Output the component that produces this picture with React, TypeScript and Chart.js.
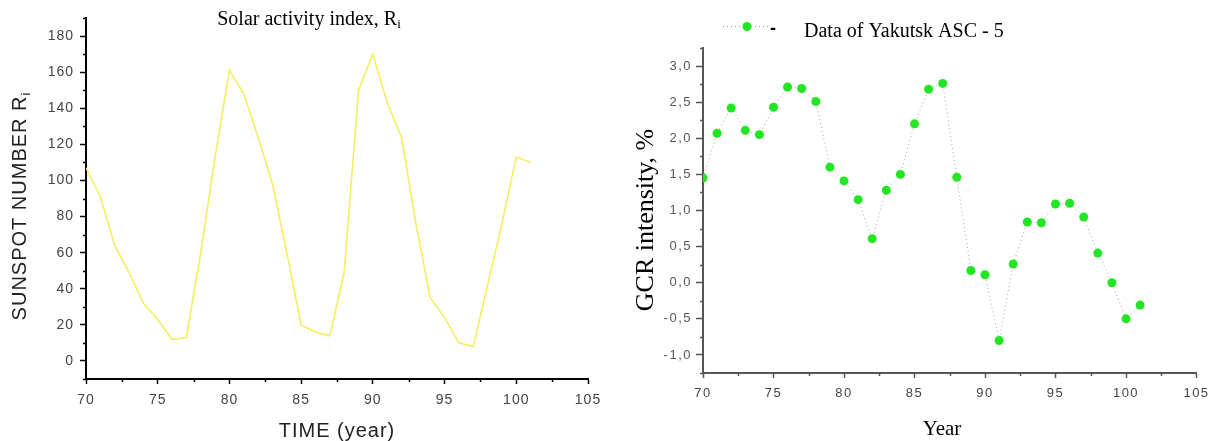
import React, { useEffect, useRef } from "react";
import { Chart, registerables } from "chart.js";

Chart.register(...registerables);

// ---------- data ----------
const years = [70, 71, 72, 73, 74, 75, 76, 77, 78, 79, 80, 81, 82, 83, 84, 85, 86, 87, 88, 89, 90, 91, 92, 93, 94, 95, 96, 97, 98, 99, 100, 101];
const sunspotNumbers = [107, 91, 64, 49, 32, 23, 12, 13, 60, 113, 161, 148, 124, 98, 60, 20, 16, 14, 49, 150, 170, 143, 124, 76, 35, 24, 10, 8, 42, 76, 113, 110];
const gcrIntensity = [1.45, 2.07, 2.42, 2.11, 2.05, 2.43, 2.71, 2.69, 2.51, 1.6, 1.41, 1.15, 0.61, 1.28, 1.5, 2.2, 2.68, 2.76, 1.46, 0.17, 0.11, -0.8, 0.26, 0.84, 0.83, 1.09, 1.1, 0.91, 0.41, 0.0, -0.5, -0.31];

const leftXTicks = [70, 75, 80, 85, 90, 95, 100, 105];
const leftYTicks = [0, 20, 40, 60, 80, 100, 120, 140, 160, 180];
const rightXTicks = [70, 75, 80, 85, 90, 95, 100, 105];
const rightYTicks = [-1.0, -0.5, 0.0, 0.5, 1.0, 1.5, 2.0, 2.5, 3.0];

const leftTitle = "Solar activity index, R";
const leftTitleSub = "i";
const leftYTitle = "SUNSPOT NUMBER R";
const leftYTitleSub = "i";
const leftXTitle = "TIME (year)";
const rightYTitle = "GCR intensity, %";
const rightXTitle = "Year";
const legendDash = "-";
const legendLabel = "Data of Yakutsk ASC - 5";

const SANS = "'Liberation Sans', Arial, sans-serif";
const SERIF = "'Liberation Serif', 'Times New Roman', serif";

// ---------- helpers ----------
function spacingPlugin(ls: string) {
  return {
    id: "spacing",
    beforeUpdate(chart: any) {
      chart.ctx.letterSpacing = ls;
    },
    beforeDraw(chart: any) {
      chart.ctx.letterSpacing = ls;
    },
  };
}

function minorTicksPlugin(color: string, width: number, len: number) {
  return {
    id: "minorTicks",
    afterDraw(chart: any) {
      const ctx = chart.ctx;
      ctx.save();
      ctx.strokeStyle = color;
      ctx.lineWidth = width;
      for (const id of ["x", "y"]) {
        const s = chart.scales[id];
        const t = s.ticks.map((k: any) => k.value);
        const half = (t[1] - t[0]) / 2;
        const vals: number[] = [];
        for (const v of t) if (v + half <= s.max + 1e-9) vals.push(v + half);
        if (t[0] - half >= s.min - 1e-9) vals.push(t[0] - half);
        for (const v of vals) {
          const p = Math.round(s.getPixelForValue(v)) + 0.5;
          ctx.beginPath();
          if (id === "x") {
            ctx.moveTo(p, s.top);
            ctx.lineTo(p, s.top + len);
          } else {
            ctx.moveTo(s.right - len, p);
            ctx.lineTo(s.right, p);
          }
          ctx.stroke();
        }
      }
      ctx.restore();
    },
  };
}

function drawWithSub(ctx: CanvasRenderingContext2D, main: string, sub: string, mainFont: string, subFont: string, cx: number, baseline: number, subShift: number) {
  ctx.font = mainFont;
  const w1 = ctx.measureText(main).width;
  ctx.font = subFont;
  const w2 = ctx.measureText(sub).width;
  const start = cx - (w1 + w2) / 2;
  ctx.textAlign = "left";
  ctx.textBaseline = "alphabetic";
  ctx.font = mainFont;
  ctx.fillText(main, start, baseline);
  ctx.font = subFont;
  ctx.fillText(sub, start + w1, baseline + subShift);
}

const leftTextPlugin = {
  id: "leftText",
  afterDraw(chart: any) {
    const ctx = chart.ctx as CanvasRenderingContext2D;
    ctx.save();
    (ctx as any).letterSpacing = "0px";
    ctx.fillStyle = "#000";
    drawWithSub(ctx, leftTitle, leftTitleSub, `20px ${SERIF}`, `13px ${SERIF}`, 309, 25, 3);

    (ctx as any).letterSpacing = "1px";
    ctx.fillStyle = "#222";
    ctx.font = `20px ${SANS}`;
    ctx.textAlign = "center";
    ctx.textBaseline = "alphabetic";
    const xs = chart.scales.x;
    ctx.fillText(leftXTitle, (xs.left + xs.right) / 2, 437);

    ctx.save();
    ctx.translate(19, 206);
    ctx.rotate(-Math.PI / 2);
    drawWithSub(ctx, leftYTitle, leftYTitleSub, `20px ${SANS}`, `13px ${SANS}`, 0, 7, 4);
    ctx.restore();
    ctx.restore();
  },
};

const rightTextPlugin = {
  id: "rightText",
  afterDraw(chart: any) {
    const ctx = chart.ctx as CanvasRenderingContext2D;
    ctx.save();
    (ctx as any).letterSpacing = "0px";
    ctx.fillStyle = "#000";

    // legend
    ctx.strokeStyle = "rgba(110,150,120,0.8)";
    ctx.lineWidth = 1;
    ctx.setLineDash([1, 3]);
    ctx.beginPath();
    ctx.moveTo(113, 26.5);
    ctx.lineTo(160, 26.5);
    ctx.stroke();
    ctx.setLineDash([]);
    ctx.fillStyle = "#22e622";
    ctx.beginPath();
    ctx.arc(137, 26.5, 4.5, 0, Math.PI * 2);
    ctx.fill();
    ctx.fillStyle = "#000";
    ctx.font = `bold 18px ${SANS}`;
    ctx.textAlign = "center";
    ctx.textBaseline = "middle";
    ctx.fillText(legendDash, 163, 29);
    ctx.font = `20px ${SERIF}`;
    ctx.textAlign = "left";
    ctx.textBaseline = "alphabetic";
    ctx.fillText(legendLabel, 194, 37);

    // x title
    ctx.font = `21px ${SERIF}`;
    ctx.textAlign = "center";
    ctx.fillText(rightXTitle, 332, 435);

    // y title
    ctx.save();
    ctx.translate(36, 220);
    ctx.rotate(-Math.PI / 2);
    ctx.font = `26px ${SERIF}`;
    ctx.textAlign = "center";
    ctx.textBaseline = "middle";
    ctx.fillText(rightYTitle, 0, 0);
    ctx.restore();
    ctx.restore();
  },
};

function fixedTicks(list: number[]) {
  return (scale: any) => {
    scale.ticks = list.map((v) => ({ value: v }));
  };
}

// ---------- component ----------
export default function App() {
  const leftRef = useRef<HTMLCanvasElement | null>(null);
  const rightRef = useRef<HTMLCanvasElement | null>(null);

  useEffect(() => {
    const leftChart = new Chart(leftRef.current as HTMLCanvasElement, {
      type: "line",
      data: {
        datasets: [
          {
            data: years.map((y, i) => ({ x: y, y: sunspotNumbers[i] })),
            borderColor: "#f3ee62",
            borderWidth: 1.6,
            pointRadius: 0,
            tension: 0,
            fill: false,
          },
        ],
      },
      options: {
        animation: false,
        responsive: false,
        layout: { padding: { top: 18, right: 22, bottom: 0, left: 0 } },
        plugins: { legend: { display: false }, title: { display: false }, tooltip: { enabled: false } },
        scales: {
          x: {
            type: "linear",
            min: 70,
            max: 105,
            afterBuildTicks: fixedTicks(leftXTicks),
            afterFit: (s: any) => {
              s.height = 62;
            },
            ticks: { font: { family: SANS, size: 14 }, color: "#444", padding: 8, maxRotation: 0, autoSkip: false },
            grid: { drawOnChartArea: false, tickLength: 5, tickColor: "#000", tickWidth: 1.5 },
            border: { color: "#000", width: 2 },
          },
          y: {
            type: "linear",
            min: -10,
            max: 190,
            afterBuildTicks: fixedTicks(leftYTicks),
            afterFit: (s: any) => {
              s.width = 86;
            },
            ticks: { font: { family: SANS, size: 14 }, color: "#444", padding: 6, autoSkip: false },
            grid: { drawOnChartArea: false, tickLength: 6, tickColor: "#000", tickWidth: 1.5 },
            border: { color: "#000", width: 2 },
          },
        },
      },
      plugins: [spacingPlugin("1px"), minorTicksPlugin("#000", 1.5, 3), leftTextPlugin],
    } as any);

    const rightChart = new Chart(rightRef.current as HTMLCanvasElement, {
      type: "line",
      data: {
        datasets: [
          {
            data: years.map((y, i) => ({ x: y, y: gcrIntensity[i] })),
            borderColor: "rgba(110,150,120,0.75)",
            borderWidth: 1,
            borderDash: [1, 3],
            pointRadius: 4.5,
            pointBackgroundColor: "#22e622",
            pointBorderWidth: 0,
            pointBorderColor: "#22e622",
            tension: 0,
            fill: false,
          },
        ],
      },
      options: {
        animation: false,
        responsive: false,
        layout: { padding: { top: 48, right: 23.5, bottom: 0, left: 0 } },
        plugins: { legend: { display: false }, title: { display: false }, tooltip: { enabled: false } },
        scales: {
          x: {
            type: "linear",
            min: 70,
            max: 105,
            afterBuildTicks: fixedTicks(rightXTicks),
            afterFit: (s: any) => {
              s.height = 68;
            },
            ticks: { font: { family: SANS, size: 13 }, color: "#444", padding: 8, maxRotation: 0, autoSkip: false },
            grid: { drawOnChartArea: false, tickLength: 5, tickColor: "#555", tickWidth: 1.5 },
            border: { color: "#555", width: 2 },
          },
          y: {
            type: "linear",
            min: -1.25,
            max: 3.25,
            afterBuildTicks: fixedTicks(rightYTicks),
            afterFit: (s: any) => {
              s.width = 93;
            },
            ticks: {
              font: { family: SANS, size: 13 },
              color: "#555",
              padding: 4,
              autoSkip: false,
              callback: (v: any) => Number(v).toFixed(1).replace(".", ","),
            },
            grid: { drawOnChartArea: false, tickLength: 7, tickColor: "#555", tickWidth: 1.5 },
            border: { color: "#555", width: 2 },
          },
        },
      },
      plugins: [spacingPlugin("1.5px"), minorTicksPlugin("#555", 1.5, 3), rightTextPlugin],
    } as any);

    return () => {
      leftChart.destroy();
      rightChart.destroy();
    };
  }, []);

  return (
    <div style={{ position: "absolute", left: 0, top: 0, width: 1220, height: 441, background: "#fff" }}>
      <canvas ref={leftRef} width={610} height={441} style={{ position: "absolute", left: 0, top: 0, width: 610, height: 441 }} />
      <canvas ref={rightRef} width={610} height={441} style={{ position: "absolute", left: 610, top: 0, width: 610, height: 441 }} />
    </div>
  );
}
